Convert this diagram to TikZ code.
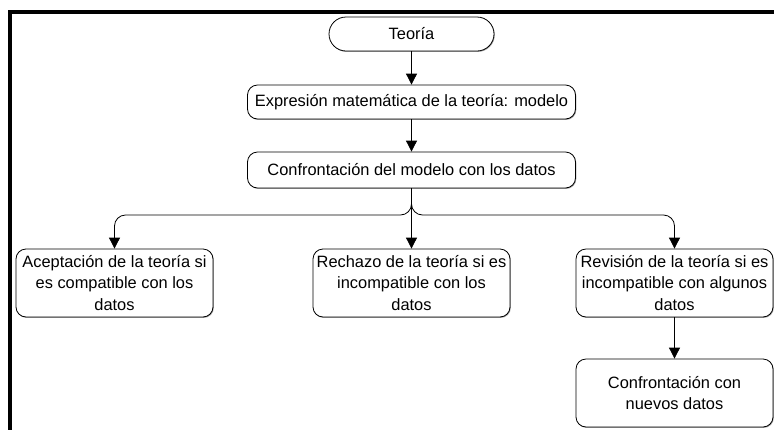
\documentclass[tikz,border=0pt]{standalone}
\usepackage{fontspec}
\setmainfont{Liberation Sans}
\usetikzlibrary{arrows.meta,shadows}
\begin{document}
\begin{tikzpicture}[x=1pt,y=-1pt,
  basebox/.style={draw,line width=0.8pt,fill=white,align=center,inner sep=0pt,
    font=\fontsize{16.4}{21.5}\selectfont,
    drop shadow={shadow xshift=0.8pt,shadow yshift=-0.9pt,fill=black!35,opacity=1}},
  stadium/.style={basebox,rounded corners=17pt,minimum width=165pt,minimum height=34pt},
  widebox/.style={basebox,rounded corners=10pt,minimum width=328pt},
  tallbox/.style={basebox,rounded corners=10pt,minimum width=197pt,minimum height=68pt},
  arr/.style={line width=0.8pt,-{Triangle[length=11pt,width=11pt]}},
  frameline/.style={line width=4pt}
]
\useasboundingbox (0,0) rectangle (774,429);
\draw[frameline] (10,431) -- (10,12) -- (776,12);

\node[stadium] (teo) at (411.5,34) {Teoría};
\node[widebox,minimum height=34pt] (exp) at (411.5,102) {Expresión matemática de la teoría: modelo};
\node[widebox,minimum height=36pt] (conf) at (411.5,170) {Confrontación del modelo con los datos};

\node[tallbox] (acep) at (114.5,283) {Aceptación de la teoría si\\es compatible con los\\datos};
\node[tallbox] (rech) at (411.5,283) {Rechazo de la teoría si es\\incompatible con los\\datos};
\node[tallbox] (rev) at (674.5,283) {Revisión de la teoría si es\\incompatible con algunos\\datos};
\node[tallbox] (nue) at (674.5,393) {Confrontación con\\nuevos datos};

\coordinate (split) at (411.5,215);

\draw[arr] (teo) -- (exp);
\draw[arr] (exp) -- (conf);
\draw[arr] (conf.south) -- (rech.north);
\draw[arr,rounded corners=11pt] (conf.south) -- (split) -| (acep.north);
\draw[arr,rounded corners=11pt] (conf.south) -- (split) -| (rev.north);
\draw[arr] (rev) -- (nue);
\end{tikzpicture}
\end{document}
